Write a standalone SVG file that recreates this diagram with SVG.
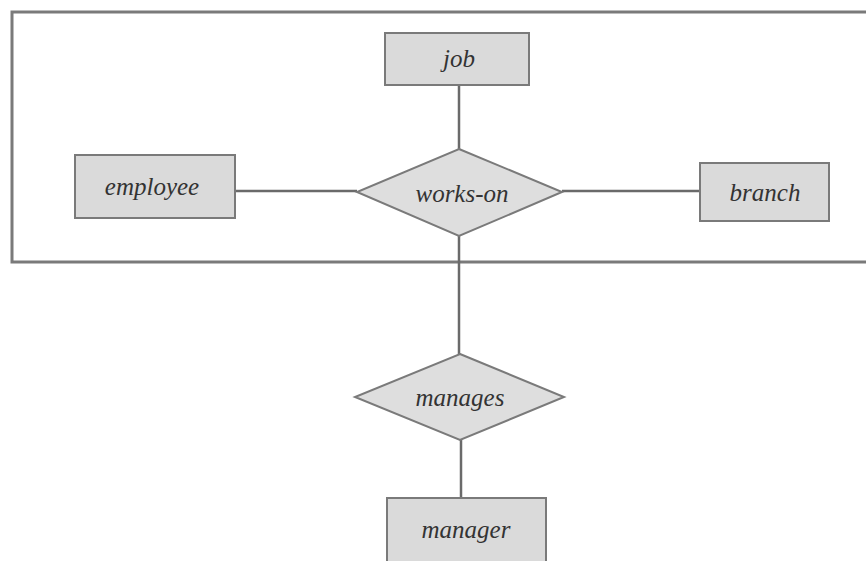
<svg xmlns="http://www.w3.org/2000/svg" width="866" height="561" viewBox="0 0 866 561">
<style>
.ent{fill:#dadada;stroke:#7a7a7a;stroke-width:2}
.rel{fill:#dedede;stroke:#7a7a7a;stroke-width:2}
.lbl{font-family:"Liberation Serif","DejaVu Serif",serif;font-style:italic;font-size:25px;fill:#333;text-anchor:middle;dominant-baseline:central}
.ln{stroke:#6a6a6a;stroke-width:2.5;fill:none}
</style>
<rect width="866" height="561" fill="#fff"/>
<g id="aggregation"><path d="M870 12 H12 V262 H870" fill="none" stroke="#7a7a7a" stroke-width="3"/></g>
<g id="connectors">
<line class="ln" x1="459" y1="85" x2="459" y2="149"/>
<line class="ln" x1="235" y1="191" x2="357" y2="191"/>
<line class="ln" x1="562" y1="191" x2="700" y2="191"/>
<line class="ln" x1="459" y1="236" x2="459" y2="354"/>
<line class="ln" x1="461" y1="440" x2="461" y2="498"/>
</g>
<g id="job"><rect class="ent" x="385" y="33" width="144" height="52"/><text class="lbl" x="459" y="58">job</text></g>
<g id="employee"><rect class="ent" x="75" y="155" width="160" height="63"/><text class="lbl" x="152" y="186">employee</text></g>
<g id="branch"><rect class="ent" x="700" y="163" width="129" height="58"/><text class="lbl" x="765" y="192">branch</text></g>
<g id="works-on"><polygon class="rel" points="459,149 562,192 459,236 357,192"/><text class="lbl" x="462" y="193">works-on</text></g>
<g id="manages"><polygon class="rel" points="460,354 564,397 460,440 355,397"/><text class="lbl" x="460" y="397">manages</text></g>
<g id="manager"><rect class="ent" x="387" y="498" width="159" height="66"/><text class="lbl" x="466" y="529">manager</text></g>
</svg>
